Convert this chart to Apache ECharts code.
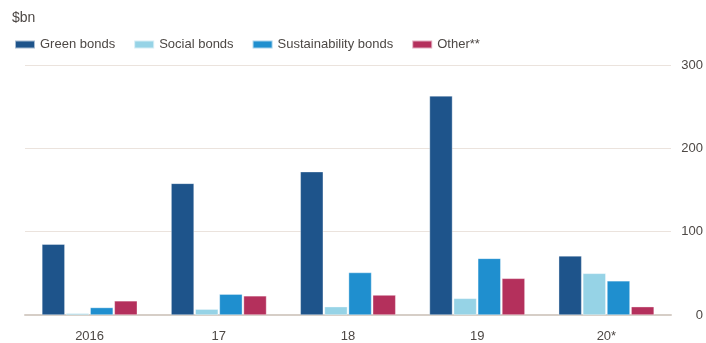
<!DOCTYPE html>
<html>
<head>
<meta charset="utf-8">
<script src="https://cdn.jsdelivr.net/npm/echarts@6/dist/echarts.min.js"></script>
<style>
  html, body { margin: 0; padding: 0; background: #fff; }
  #chart { width: 706px; height: 343px; }
</style>
</head>
<body>
<div id="chart"></div>
<script>
// data, $bn
const years = ["2016", "17", "18", "19", "20*"];
const greenBonds = [85, 158, 172, 263, 71];
const socialBonds = [2, 7, 10, 20, 50];
const sustainabilityBonds = [9, 25, 51, 68, 41];
const otherBonds = [17, 23, 24, 44, 10];
const yTicks = [0, 100, 200, 300];

const FONT = "'Liberation Sans', Arial, sans-serif";
const TEXT = "#4d4845";

function barSeries(name, data, color) {
    return {
        name: name,
        type: "bar",
        data: data,
        barWidth: 23,
        barGap: "5%",
        itemStyle: { color: color, borderColor: "rgba(255,255,255,0.6)", borderWidth: 0.6 },
        emphasis: { disabled: true }
    };
}

const chart = echarts.init(document.getElementById("chart"));
chart.setOption({
    animation: false,
    textStyle: { fontFamily: FONT },
    title: {
        text: "$bn",
        left: 12,
        top: 11,
        padding: 0,
        textStyle: { fontSize: 14, fontWeight: "normal", color: TEXT, fontFamily: FONT }
    },
    legend: {
        left: 14,
        top: 38,
        padding: 0,
        itemWidth: 20,
        itemHeight: 8,
        itemGap: 18,
        icon: "rect",
        textStyle: { fontSize: 13, color: TEXT, fontFamily: FONT },
        data: ["Green bonds", "Social bonds", "Sustainability bonds", "Other**"]
    },
    grid: { left: 25, right: 32, top: 65, bottom: 25 },
    xAxis: {
        type: "category",
        data: years,
        axisLine: { lineStyle: { color: "#d6cec7", width: 2 } },
        axisTick: { alignWithLabel: true, length: 8, lineStyle: { color: "#c9c0b8" } },
        axisLabel: { fontSize: 13, color: TEXT, margin: 15, fontFamily: FONT }
    },
    yAxis: {
        type: "value",
        position: "right",
        min: yTicks[0],
        max: yTicks[yTicks.length - 1],
        interval: 100,
        axisLine: { show: false },
        axisTick: { show: false },
        splitLine: { lineStyle: { color: "#ebe3dd", width: 1 } },
        axisLabel: { fontSize: 13, color: TEXT, align: "right", margin: 32, fontFamily: FONT }
    },
    series: [
        barSeries("Green bonds", greenBonds, "#1e548b"),
        barSeries("Social bonds", socialBonds, "#96d3e6"),
        barSeries("Sustainability bonds", sustainabilityBonds, "#1f8fcf"),
        barSeries("Other**", otherBonds, "#b4305c")
    ]
});
</script>
</body>
</html>
